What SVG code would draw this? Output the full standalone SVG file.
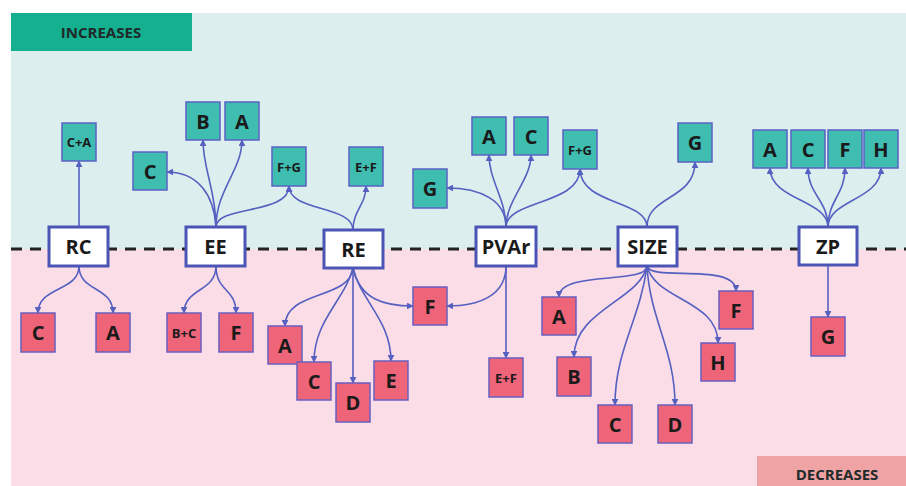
<svg xmlns="http://www.w3.org/2000/svg" width="906" height="486" viewBox="0 0 906 486">
<defs>
<marker id="ah" viewBox="0 0 10 10" refX="9" refY="5" markerWidth="7" markerHeight="7" orient="auto" markerUnits="userSpaceOnUse"><path d="M0,0 L10,5 L0,10 z" fill="#5560c0"/></marker>
<style>
.node rect{fill:#ffffff;stroke:#4b55b5;stroke-width:3}
.node text{font-family:"Open Sans","Liberation Sans",sans-serif;font-weight:700;font-size:20px;fill:#1a1a1a;text-anchor:middle;dominant-baseline:central}
.up rect{fill:#3fbdb1;stroke:#5b62c4;stroke-width:1.5}
.dn rect{fill:#ee6579;stroke:#6a5fc0;stroke-width:1.5}
.up text,.dn text{font-family:"Open Sans","Liberation Sans",sans-serif;font-weight:700;font-size:20px;fill:#1a1a1a;text-anchor:middle;dominant-baseline:central}
.up text.sm,.dn text.sm{font-size:13px}
#connectors path{fill:none;stroke:#5560c0;stroke-width:1.6;marker-end:url(#ah)}
.lbl{font-family:"Open Sans","Liberation Sans",sans-serif;font-weight:700;font-size:15px;fill:#1f2a2a;text-anchor:middle;dominant-baseline:central}
</style>
</defs>
<rect x="0" y="0" width="906" height="486" fill="#ffffff"/>
<rect x="11" y="13" width="895" height="236" fill="#dcefee"/>
<rect x="11" y="249" width="895" height="237" fill="#fadde7"/>
<g id="increases"><rect x="11" y="13" width="181" height="38" fill="#15b08f"/><text class="lbl" x="101" y="32">INCREASES</text></g>
<g id="decreases"><rect x="757" y="456" width="149" height="30" fill="#f0a3a4"/><text class="lbl" x="837" y="474">DECREASES</text></g>
<line x1="11" y1="249" x2="906" y2="249" stroke="#222222" stroke-width="3" stroke-dasharray="11 8"/>
<g id="connectors">
<path d="M79,227 L79,161"/>
<path d="M79,266 C79,292 38,286 38,313"/>
<path d="M79,266 C79,292 113,286 113,313"/>
<path d="M216,227 C214,195 198,172 167,172"/>
<path d="M216,227 C216,190 203,170 203,140"/>
<path d="M216,227 C216,190 242,170 242,140"/>
<path d="M216,227 C216,205 289,215 289,186"/>
<path d="M216,266 C216,292 184,288 184,313"/>
<path d="M216,266 C216,292 236,288 236,313"/>
<path d="M353,230 C353,205 289,212 289,186"/>
<path d="M353,230 C353,210 366,205 366,186"/>
<path d="M353,268 C350,300 285,290 285,326"/>
<path d="M353,268 C345,300 314,320 314,362"/>
<path d="M353,268 L353,383"/>
<path d="M353,268 C360,300 391,320 391,361"/>
<path d="M353,268 C360,300 385,306 413,306"/>
<path d="M506,227 C506,200 480,188 447,188"/>
<path d="M506,227 C506,200 489,180 489,155"/>
<path d="M506,227 C506,200 531,180 531,155"/>
<path d="M506,227 C506,200 580,205 580,169"/>
<path d="M506,266 L506,358"/>
<path d="M506,266 C506,295 480,306 447,306"/>
<path d="M647,227 C647,200 580,205 580,169"/>
<path d="M647,227 C647,195 695,200 695,162"/>
<path d="M647,266 C647,285 559,270 559,297"/>
<path d="M647,266 C640,300 574,310 574,357"/>
<path d="M647,266 C640,320 615,350 615,405"/>
<path d="M647,266 C650,320 675,350 675,405"/>
<path d="M647,266 C655,300 718,300 718,343"/>
<path d="M647,266 C650,282 736,262 736,291"/>
<path d="M828,227 C828,200 770,200 770,168"/>
<path d="M828,227 C828,200 808,195 808,168"/>
<path d="M828,227 C828,200 845,195 845,168"/>
<path d="M828,227 C828,200 881,200 881,168"/>
<path d="M828,265 L828,317"/>
</g>
<g id="RC" class="node"><rect x="49" y="227" width="59" height="39"/><text x="78.5" y="246.5">RC</text></g>
<g id="EE" class="node"><rect x="186" y="227" width="59" height="39"/><text x="215.5" y="246.5">EE</text></g>
<g id="RE" class="node"><rect x="324" y="230" width="59" height="38"/><text x="353.5" y="249">RE</text></g>
<g id="PVAr" class="node"><rect x="476" y="227" width="60" height="39"/><text x="506" y="246.5">PVAr</text></g>
<g id="SIZE" class="node"><rect x="618" y="227" width="59" height="39"/><text x="647.5" y="246.5">SIZE</text></g>
<g id="ZP" class="node"><rect x="799" y="227" width="58" height="38"/><text x="828" y="246">ZP</text></g>

<g id="RC-up-CA" class="up"><rect x="62" y="123" width="34" height="38"/><text class="sm" x="79" y="142">C+A</text></g>
<g id="EE-up-B" class="up"><rect x="186" y="102" width="34" height="38"/><text x="203" y="121">B</text></g>
<g id="EE-up-A" class="up"><rect x="225" y="102" width="34" height="38"/><text x="242" y="121">A</text></g>
<g id="EE-up-C" class="up"><rect x="133" y="152" width="34" height="38"/><text x="150" y="171">C</text></g>
<g id="up-FG1" class="up"><rect x="272" y="147" width="34" height="39"/><text class="sm" x="289" y="166.5">F+G</text></g>
<g id="RE-up-EF" class="up"><rect x="349" y="147" width="34" height="39"/><text class="sm" x="366" y="166.5">E+F</text></g>
<g id="PVAr-up-G" class="up"><rect x="413" y="169" width="34" height="39"/><text x="430" y="188.5">G</text></g>
<g id="PVAr-up-A" class="up"><rect x="472" y="117" width="34" height="38"/><text x="489" y="136">A</text></g>
<g id="PVAr-up-C" class="up"><rect x="514" y="117" width="34" height="38"/><text x="531" y="136">C</text></g>
<g id="up-FG2" class="up"><rect x="563" y="130" width="34" height="39"/><text class="sm" x="580" y="149.5">F+G</text></g>
<g id="SIZE-up-G" class="up"><rect x="678" y="123" width="34" height="39"/><text x="695" y="142.5">G</text></g>
<g id="ZP-up-A" class="up"><rect x="753" y="130" width="34" height="38"/><text x="770" y="149">A</text></g>
<g id="ZP-up-C" class="up"><rect x="791" y="130" width="34" height="38"/><text x="808" y="149">C</text></g>
<g id="ZP-up-F" class="up"><rect x="828" y="130" width="34" height="38"/><text x="845" y="149">F</text></g>
<g id="ZP-up-H" class="up"><rect x="864" y="130" width="34" height="38"/><text x="881" y="149">H</text></g>

<g id="RC-dn-C" class="dn"><rect x="21" y="313" width="34" height="39"/><text x="38" y="332.5">C</text></g>
<g id="RC-dn-A" class="dn"><rect x="96" y="313" width="34" height="39"/><text x="113" y="332.5">A</text></g>
<g id="EE-dn-BC" class="dn"><rect x="167" y="313" width="34" height="39"/><text class="sm" x="184" y="332.5">B+C</text></g>
<g id="EE-dn-F" class="dn"><rect x="219" y="313" width="34" height="39"/><text x="236" y="332.5">F</text></g>
<g id="RE-dn-A" class="dn"><rect x="268" y="326" width="34" height="38"/><text x="285" y="345">A</text></g>
<g id="RE-dn-C" class="dn"><rect x="297" y="362" width="34" height="38"/><text x="314" y="381">C</text></g>
<g id="RE-dn-D" class="dn"><rect x="336" y="383" width="34" height="39"/><text x="353" y="402.5">D</text></g>
<g id="RE-dn-E" class="dn"><rect x="374" y="361" width="34" height="39"/><text x="391" y="380.5">E</text></g>
<g id="dn-F" class="dn"><rect x="413" y="287" width="34" height="38"/><text x="430" y="306">F</text></g>
<g id="PVAr-dn-EF" class="dn"><rect x="489" y="358" width="34" height="39"/><text class="sm" x="506" y="377.5">E+F</text></g>
<g id="SIZE-dn-A" class="dn"><rect x="542" y="297" width="34" height="38"/><text x="559" y="316">A</text></g>
<g id="SIZE-dn-B" class="dn"><rect x="557" y="357" width="34" height="39"/><text x="574" y="376.5">B</text></g>
<g id="SIZE-dn-C" class="dn"><rect x="598" y="405" width="34" height="38"/><text x="615" y="424">C</text></g>
<g id="SIZE-dn-D" class="dn"><rect x="658" y="405" width="34" height="38"/><text x="675" y="424">D</text></g>
<g id="SIZE-dn-F" class="dn"><rect x="719" y="291" width="34" height="38"/><text x="736" y="310">F</text></g>
<g id="SIZE-dn-H" class="dn"><rect x="701" y="343" width="34" height="38"/><text x="718" y="362">H</text></g>
<g id="ZP-dn-G" class="dn"><rect x="811" y="317" width="34" height="39"/><text x="828" y="336.5">G</text></g>
</svg>
